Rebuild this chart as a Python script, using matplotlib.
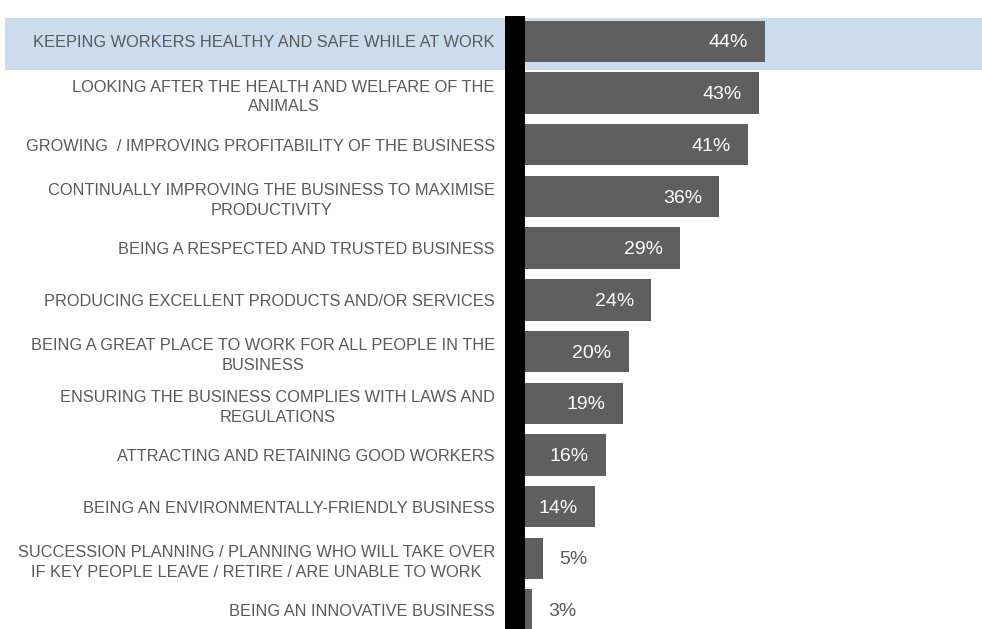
import matplotlib
matplotlib.use("Agg")
import matplotlib.pyplot as plt
from matplotlib.patches import Rectangle

labels = [
    "KEEPING WORKERS HEALTHY AND SAFE WHILE AT WORK",
    "LOOKING AFTER THE HEALTH AND WELFARE OF THE\nANIMALS",
    "GROWING  / IMPROVING PROFITABILITY OF THE BUSINESS",
    "CONTINUALLY IMPROVING THE BUSINESS TO MAXIMISE\nPRODUCTIVITY",
    "BEING A RESPECTED AND TRUSTED BUSINESS",
    "PRODUCING EXCELLENT PRODUCTS AND/OR SERVICES",
    "BEING A GREAT PLACE TO WORK FOR ALL PEOPLE IN THE\nBUSINESS",
    "ENSURING THE BUSINESS COMPLIES WITH LAWS AND\nREGULATIONS",
    "ATTRACTING AND RETAINING GOOD WORKERS",
    "BEING AN ENVIRONMENTALLY-FRIENDLY BUSINESS",
    "SUCCESSION PLANNING / PLANNING WHO WILL TAKE OVER\nIF KEY PEOPLE LEAVE / RETIRE / ARE UNABLE TO WORK",
    "BEING AN INNOVATIVE BUSINESS",
]
values = [44, 43, 41, 36, 29, 24, 20, 19, 16, 14, 5, 3]

plt.rcParams['font.family'] = ['Liberation Sans', 'DejaVu Sans']

W, H = 982, 629
fig = plt.figure(figsize=(W / 100, H / 100), dpi=100)

# highlight band behind first row
fig.patches.append(Rectangle((5 / W, 1 - 70 / H), (W - 5) / W, 52 / H,
                             transform=fig.transFigure, facecolor="#cadcee",
                             edgecolor="none", zorder=-5))

pitch = 51.7
top = 15.5
ax = fig.add_axes([515 / W, 1 - (top + 12 * pitch) / H, (W - 515) / W, 12 * pitch / H])
ax.set_facecolor("none")
ax.set_zorder(2)

y = list(range(len(values)))
ax.barh(y, values, height=0.8, color="#5f5f5f")
ax.set_ylim(11.5, -0.5)
ax.set_xlim(0, (W - 515) / 5.68)

for yi, v in zip(y, values):
    if v >= 10:
        ax.text(v - 3.0, yi + 0.03, f"{v}%", ha="right", va="center", color="white", fontsize=14)
    else:
        ax.text(v + 2.8, yi + 0.03, f"{v}%", ha="left", va="center", color="#595959", fontsize=14)

ax.set_yticks(y)
ax.set_yticklabels(labels, fontsize=11.8, color="#595959",
                   multialignment="center", linespacing=1.4)
ax.tick_params(axis="y", length=0, pad=14.5)
ax.set_xticks([])
for s in ["top", "right", "bottom"]:
    ax.spines[s].set_visible(False)
ax.spines["left"].set_linewidth(14.4)
ax.spines["left"].set_color("black")
ax.spines["left"].set_capstyle("butt")

fig.savefig("out.png", dpi=100)
